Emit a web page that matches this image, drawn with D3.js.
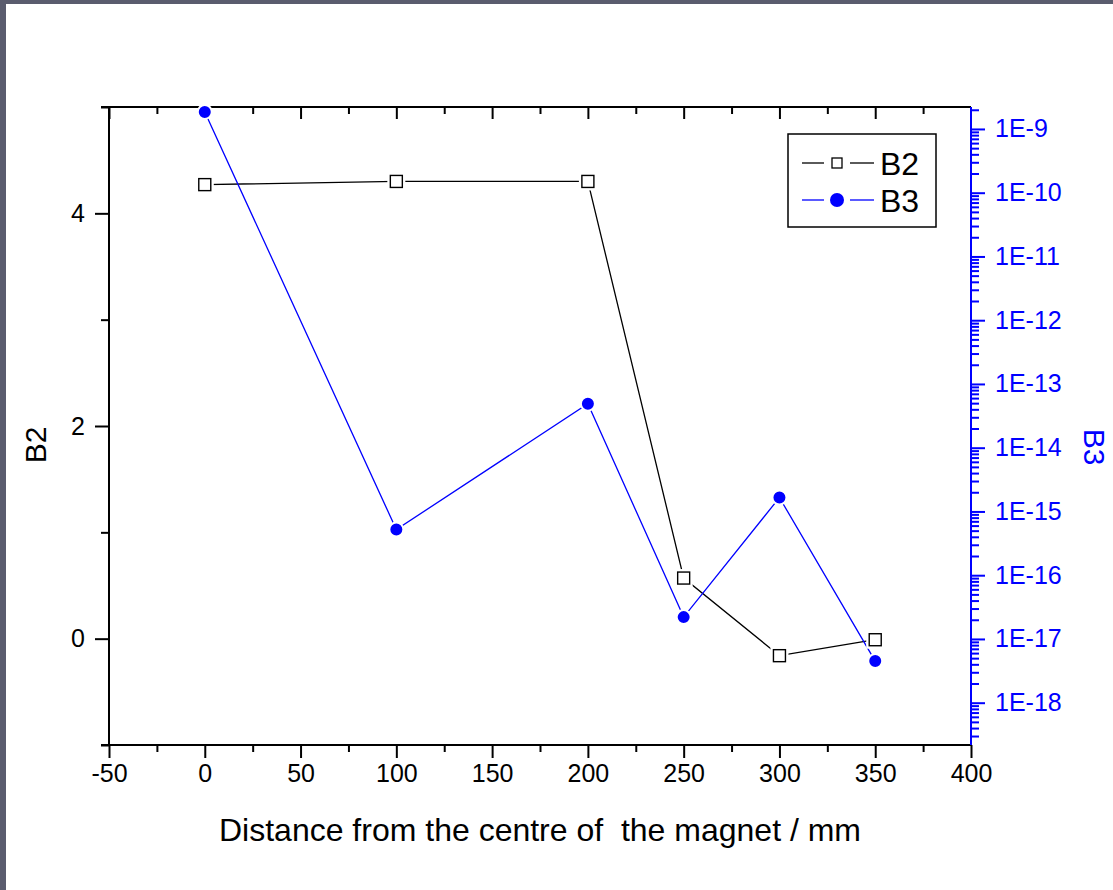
<!DOCTYPE html>
<html>
<head>
<meta charset="utf-8">
<script src="https://cdn.jsdelivr.net/npm/d3@7"></script>
<style>
  html, body { margin: 0; padding: 0; background: #ffffff; }
  svg { display: block; }
  text { font-family: "Liberation Sans", Arial, sans-serif; }
</style>
</head>
<body>
<div id="chart-area"></div>
<script>
// distances along the magnet (mm)
const distance = [0, 100, 200, 250, 300, 350];
const b2Values = [4.27, 4.30, 4.30, 0.57, -0.16, -0.01];
const b3Values = [1.85e-9, 5.2e-16, 4.9e-14, 2.2e-17, 1.65e-15, 4.5e-18];

const xTicks = [-50, 0, 50, 100, 150, 200, 250, 300, 350, 400];
const xMinorTicks = [-25, 25, 75, 125, 175, 225, 275, 325, 375];
const b2Ticks = [0, 2, 4];
const b2MinorTicks = [-1, 1, 3, 5];
const b3Ticks = [1e-9, 1e-10, 1e-11, 1e-12, 1e-13, 1e-14, 1e-15, 1e-16, 1e-17, 1e-18];

let svgW = 1113;
let svgH = 890;

let margin = { left: 109, right: 142, top: 107, bottom: 145 };
let chartW = svgW - margin.left - margin.right;
let chartH = svgH - margin.top - margin.bottom;

const blue = "#0000ff";
const tickFont = "25px";

let x = d3.scaleLinear().domain([-50, 400]).range([0, chartW]);
let y = d3.scaleLinear().domain([-1, 5]).range([chartH, 0]);
let yR = d3.scaleLog().domain([2.17e-19, 2.21e-9]).range([chartH, 0]);

let svg = d3.select("#chart-area")
  .append("svg")
  .attr("width", svgW)
  .attr("height", svgH)

// dark window frame
svg.append("rect").attr("x", 0).attr("y", 0).attr("width", svgW).attr("height", 4).attr("fill", "#5a5c6e");
svg.append("rect").attr("x", 0).attr("y", 0).attr("width", 6).attr("height", svgH).attr("fill", "#5a5c6e");

let group = svg.append("g")
  .attr("transform", `translate(${margin.left},${margin.top})`)

const styleAxis = (g, color) => {
  g.attr("font-size", null).attr("font-family", null);
  g.select(".domain").remove();
  g.selectAll("line").attr("stroke", color).attr("stroke-width", 2);
  g.selectAll("text").attr("fill", color).style("font-size", tickFont);
}

const plain = d => String(d);

// bottom axis
let gx = group.append("g").attr("transform", `translate(0,${chartH})`)
  .call(d3.axisBottom(x).tickValues(xTicks).tickSize(13).tickPadding(6).tickFormat(plain))
styleAxis(gx, "#000");
let gxm = group.append("g").attr("transform", `translate(0,${chartH})`)
  .call(d3.axisBottom(x).tickValues(xMinorTicks).tickSize(7).tickFormat(""))
styleAxis(gxm, "#000");

// top axis, ticks inward
let gt = group.append("g")
  .call(d3.axisBottom(x).tickValues(xTicks.slice(0, -1)).tickSize(12).tickFormat(""))
styleAxis(gt, "#000");
let gtm = group.append("g")
  .call(d3.axisBottom(x).tickValues(xMinorTicks).tickSize(7).tickFormat(""))
styleAxis(gtm, "#000");

// left axis
let gy = group.append("g")
  .call(d3.axisLeft(y).tickValues(b2Ticks).tickSize(14).tickPadding(10).tickFormat(plain))
styleAxis(gy, "#000");
let gym = group.append("g")
  .call(d3.axisLeft(y).tickValues(b2MinorTicks).tickSize(8).tickFormat(""))
styleAxis(gym, "#000");

// right log axis
let b3Minor = [];
for (let e = -19; e <= -9; e++) {
  for (let k = 2; k <= 9; k++) {
    let v = k * Math.pow(10, e);
    if (v >= yR.domain()[0] && v <= yR.domain()[1]) b3Minor.push(v);
  }
}
let gr = group.append("g").attr("transform", `translate(${chartW},0)`)
  .call(d3.axisRight(yR).tickValues(b3Ticks).tickSize(14).tickPadding(10)
    .tickFormat(d => "1E" + Math.round(Math.log10(d))))
styleAxis(gr, blue);
let grm = group.append("g").attr("transform", `translate(${chartW},0)`)
  .call(d3.axisRight(yR).tickValues(b3Minor).tickSize(8).tickFormat(""))
styleAxis(grm, blue);

// frame lines
group.append("line").attr("x1", -8).attr("x2", chartW).attr("y1", 0).attr("y2", 0)
  .attr("stroke", "#000").attr("stroke-width", 2);
group.append("line").attr("x1", -8).attr("x2", chartW).attr("y1", chartH).attr("y2", chartH)
  .attr("stroke", "#000").attr("stroke-width", 2);
group.append("line").attr("x1", 0).attr("x2", 0).attr("y1", 0).attr("y2", chartH)
  .attr("stroke", "#000").attr("stroke-width", 2);
group.append("line").attr("x1", chartW).attr("x2", chartW).attr("y1", 0).attr("y2", chartH)
  .attr("stroke", blue).attr("stroke-width", 2);

// series lines
let b2Data = distance.map((d, i) => ({ x: d, y: b2Values[i] }));
let b3Data = distance.map((d, i) => ({ x: d, y: b3Values[i] }));

group.append("path").datum(b2Data)
  .attr("fill", "none").attr("stroke", "#000").attr("stroke-width", 1.3)
  .attr("d", d3.line().x(d => x(d.x)).y(d => y(d.y)))

group.append("path").datum(b3Data)
  .attr("fill", "none").attr("stroke", blue).attr("stroke-width", 1.3)
  .attr("d", d3.line().x(d => x(d.x)).y(d => yR(d.y)))

// markers with a white halo so lines stop short of them
group.selectAll("rect.b2gap").data(b2Data).enter().append("rect")
  .attr("x", d => x(d.x) - 9).attr("y", d => y(d.y) - 9)
  .attr("width", 18).attr("height", 18).attr("fill", "#fff")
group.selectAll("rect.b2").data(b2Data).enter().append("rect")
  .attr("x", d => x(d.x) - 6).attr("y", d => y(d.y) - 6)
  .attr("width", 12).attr("height", 12)
  .attr("fill", "#fff").attr("stroke", "#000").attr("stroke-width", 1.4)

group.selectAll("circle.b3").data(b3Data).enter().append("circle")
  .attr("cx", d => x(d.x)).attr("cy", d => yR(d.y)).attr("r", 7)
  .attr("fill", blue).attr("stroke", "#fff").attr("stroke-width", 2)

// axis titles
svg.append("text")
  .attr("x", 540).attr("y", 841)
  .attr("text-anchor", "middle")
  .style("font-size", "32px")
  .attr("fill", "#000")
  .attr("xml:space", "preserve")
  .text("Distance from the centre of  the magnet / mm")

svg.append("text")
  .attr("transform", "translate(46,445) rotate(-90)")
  .attr("text-anchor", "middle")
  .style("font-size", "30px")
  .attr("fill", "#000")
  .text("B2")

svg.append("text")
  .attr("transform", "translate(1084,447) rotate(90)")
  .attr("text-anchor", "middle")
  .style("font-size", "30px")
  .attr("fill", blue)
  .text("B3")

// legend
let legend = svg.append("g").attr("transform", "translate(788,134)")
legend.append("rect").attr("width", 148).attr("height", 93)
  .attr("fill", "#fff").attr("stroke", "#000").attr("stroke-width", 1.5)

let items = [
  { name: "B2", color: "#000", shape: "square", yy: 29 },
  { name: "B3", color: blue, shape: "circle", yy: 66 }
]
items.forEach(it => {
  legend.append("line").attr("x1", 14).attr("x2", 36).attr("y1", it.yy).attr("y2", it.yy)
    .attr("stroke", it.color).attr("stroke-width", 1.3)
  legend.append("line").attr("x1", 62).attr("x2", 86).attr("y1", it.yy).attr("y2", it.yy)
    .attr("stroke", it.color).attr("stroke-width", 1.3)
  if (it.shape === "square") {
    legend.append("rect").attr("x", 44).attr("y", it.yy - 5).attr("width", 10).attr("height", 10)
      .attr("fill", "#fff").attr("stroke", "#000").attr("stroke-width", 1.3)
  } else {
    legend.append("circle").attr("cx", 49).attr("cy", it.yy).attr("r", 7).attr("fill", blue)
  }
  legend.append("text").attr("x", 92).attr("y", it.yy + 12)
    .style("font-size", "32px").attr("fill", "#000").text(it.name)
})
</script>
</body>
</html>
